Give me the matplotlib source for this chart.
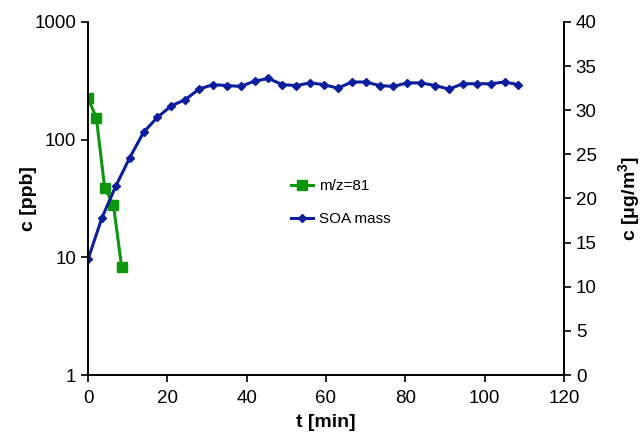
import matplotlib
matplotlib.use("Agg")
import matplotlib.pyplot as plt
from matplotlib.ticker import FixedLocator, NullLocator, FixedFormatter

plt.rcParams['font.family'] = ['Liberation Sans', 'DejaVu Sans']

# m/z=81 signal (ppb), left log axis
t_mz = [0.0, 2.1, 4.2, 6.4, 8.5]
c_mz = [225, 154, 39, 28, 8.2]

# SOA mass (ug/m3), right linear axis
t_soa = [0.0, 3.5, 7.0, 10.5, 14.0, 17.5, 21.0, 24.5, 28.0, 31.5,
         35.0, 38.5, 42.0, 45.5, 49.0, 52.5, 56.0, 59.5, 63.0, 66.5,
         70.0, 73.5, 77.0, 80.5, 84.0, 87.5, 91.0, 94.5, 98.0, 101.5,
         105.0, 108.5]
m_soa = [13.1, 17.8, 21.4, 24.6, 27.5, 29.2, 30.5, 31.2, 32.4, 32.9,
         32.8, 32.7, 33.3, 33.6, 32.9, 32.8, 33.1, 32.9, 32.5, 33.2,
         33.2, 32.8, 32.7, 33.1, 33.1, 32.8, 32.4, 33.0, 33.0, 33.0,
         33.2, 32.9]

x_ticks = [0, 20, 40, 60, 80, 100, 120]
left_ticks = [1, 10, 100, 1000]
left_labels = ['1', '10', '100', '1000']
right_ticks = [0, 5, 10, 15, 20, 25, 30, 35, 40]

green = '#0e960e'
blue = '#0a1e9e'

fig = plt.figure(figsize=(6.43, 4.33), dpi=100)
ax = fig.add_axes([88/643, 1 - 375/433, (564 - 88)/643, (375 - 22)/433])
ax2 = ax.twinx()

ax.set_yscale('log')
ax.set_ylim(1, 1000)
ax.set_xlim(0, 120)
ax2.set_ylim(0, 40)

l1, = ax.plot(t_mz, c_mz, color=green, lw=2.2, marker='s', ms=6.5,
              mec=green, mfc=green, label='m/z=81')
l2, = ax2.plot(t_soa, m_soa, color=blue, lw=2.2, marker='D', ms=4.2,
               mec=blue, mfc=blue, label='SOA mass')

ax.yaxis.set_major_locator(FixedLocator(left_ticks))
ax.yaxis.set_major_formatter(FixedFormatter(left_labels))
ax.yaxis.set_minor_locator(NullLocator())
ax.set_xticks(x_ticks)
ax2.set_yticks(right_ticks)

for a in (ax, ax2):
    a.spines['top'].set_visible(False)
    for s in a.spines.values():
        s.set_linewidth(1.2)
    a.tick_params(direction='out', length=5, width=1.2, labelsize=13.5)
ax.tick_params(axis='x', pad=6)

ax.set_xlabel('t [min]', fontsize=14, fontweight='bold', labelpad=5)
ax.set_ylabel('c [ppb]', fontsize=14, fontweight='bold', labelpad=-2)
ax2.set_ylabel(r'c [$\mathregular{\mu}$g/m$^\mathregular{3}$]', fontsize=14,
               fontweight='bold', labelpad=14)

fig.legend(handles=[l1, l2], loc='upper left',
           bbox_to_anchor=(285/643, 1 - 173/433), frameon=False,
           fontsize=11, handlelength=1.4, handletextpad=0.4,
           labelspacing=1.25, borderaxespad=0)

fig.savefig('out.png', dpi=100)
